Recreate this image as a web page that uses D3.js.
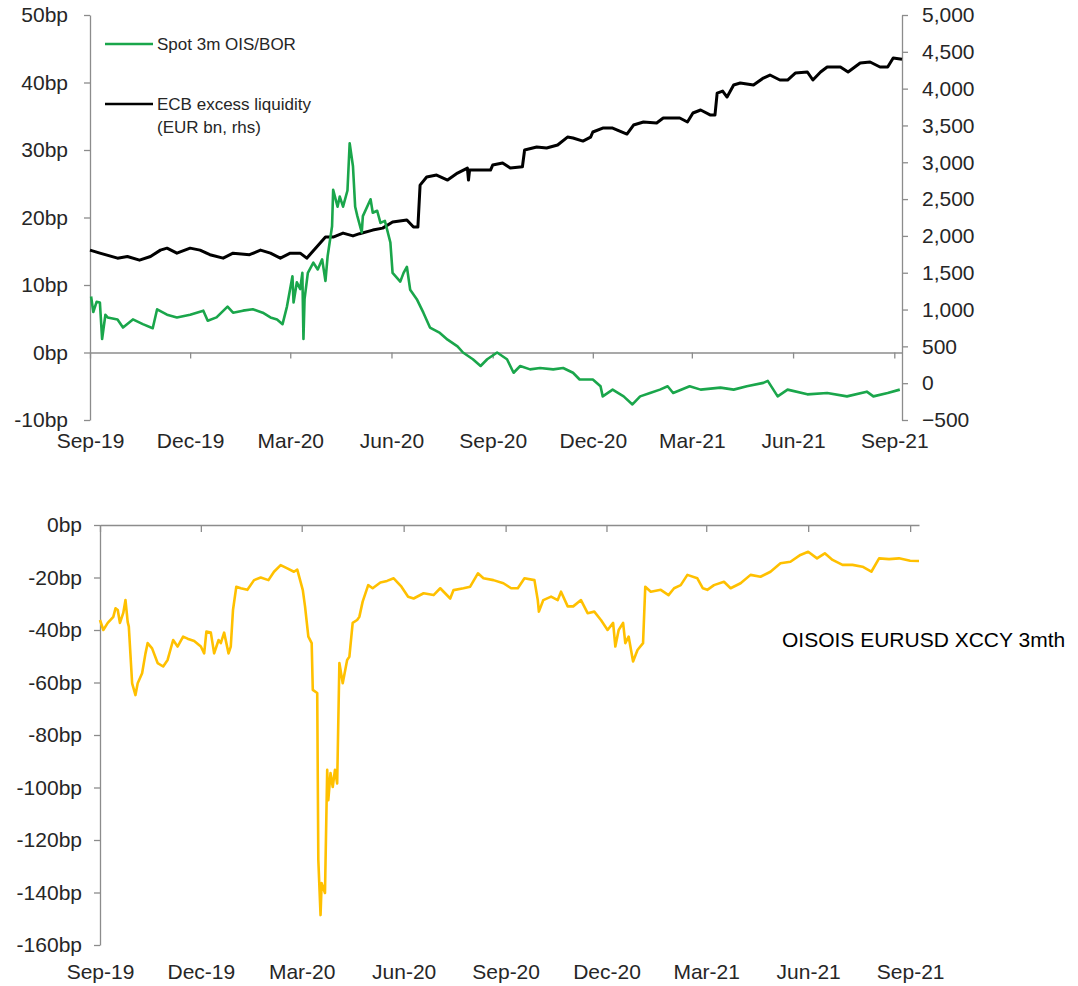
<!DOCTYPE html>
<html>
<head>
<meta charset="utf-8">
<script src="https://cdn.jsdelivr.net/npm/d3@7"></script>
<style>
  body { margin: 0; background: #fff; }
  svg text { font-family: "Liberation Sans", Arial, sans-serif; fill: #262626; }
</style>
</head>
<body>
<script>
// ---- data ----
const oisDates = ["2019-09-02","2019-09-04","2019-09-07","2019-09-10","2019-09-12","2019-09-15","2019-09-17","2019-09-26","2019-10-01","2019-10-10","2019-10-19","2019-10-28","2019-11-01","2019-11-10","2019-11-19","2019-12-01","2019-12-13","2019-12-17","2019-12-25","2020-01-04","2020-01-09","2020-01-18","2020-01-27","2020-02-05","2020-02-12","2020-02-18","2020-02-23","2020-02-27","2020-03-03","2020-03-04","2020-03-07","2020-03-10","2020-03-12","2020-03-13","2020-03-14","2020-03-17","2020-03-22","2020-03-26","2020-03-30","2020-04-02","2020-04-04","2020-04-08","2020-04-09","2020-04-13","2020-04-15","2020-04-18","2020-04-22","2020-04-24","2020-04-27","2020-04-29","2020-05-01","2020-05-05","2020-05-06","2020-05-13","2020-05-15","2020-05-19","2020-05-22","2020-05-26","2020-05-31","2020-06-02","2020-06-09","2020-06-12","2020-06-15","2020-06-18","2020-06-24","2020-06-30","2020-07-06","2020-07-15","2020-07-22","2020-07-31","2020-08-05","2020-08-14","2020-08-21","2020-08-27","2020-09-05","2020-09-14","2020-09-20","2020-09-26","2020-10-05","2020-10-14","2020-10-26","2020-11-04","2020-11-13","2020-11-19","2020-12-01","2020-12-08","2020-12-10","2020-12-19","2020-12-29","2021-01-06","2021-01-13","2021-01-22","2021-01-31","2021-02-07","2021-02-12","2021-02-27","2021-03-09","2021-03-27","2021-04-08","2021-04-20","2021-05-05","2021-05-09","2021-05-18","2021-05-27","2021-06-14","2021-07-02","2021-07-20","2021-08-07","2021-08-13","2021-08-26","2021-09-06"];
const oisValues = [8.3,6.0,7.5,7.4,2.0,5.6,5.2,4.9,3.7,4.9,4.2,3.6,6.4,5.6,5.2,5.6,6.2,4.7,5.2,6.8,5.9,6.2,6.4,5.9,5.2,4.9,4.2,6.8,11.3,7.4,10.4,9.4,11.8,2.0,7.9,11.8,13.3,12.3,13.8,10.6,14.3,18.7,24.1,21.6,23.1,21.6,24.0,31.0,27.6,21.6,20.2,17.8,20.2,22.7,20.7,21.0,19.2,19.5,16.3,11.8,10.5,11.8,12.7,9.3,7.9,5.9,3.7,2.9,1.9,0.9,0,-1,-2,-1,0,-1,-3,-2,-2.5,-2.3,-2.5,-2.3,-3,-4,-4,-5,-6.5,-5.5,-6.5,-7.7,-6.5,-6,-5.5,-5,-6,-5,-5.5,-5.2,-5.5,-5,-4.5,-4.2,-6.5,-5.5,-6.2,-6,-6.5,-5.8,-6.5,-6,-5.5];

const liqDates = ["2019-09-01","2019-09-10","2019-09-26","2019-10-05","2019-10-16","2019-10-26","2019-11-04","2019-11-10","2019-11-19","2019-12-01","2019-12-10","2019-12-19","2019-12-31","2020-01-09","2020-01-24","2020-02-03","2020-02-12","2020-02-21","2020-03-01","2020-03-10","2020-03-16","2020-03-25","2020-04-02","2020-04-09","2020-04-18","2020-04-27","2020-05-03","2020-05-15","2020-05-24","2020-06-02","2020-06-15","2020-06-21","2020-06-25","2020-06-27","2020-07-03","2020-07-12","2020-07-22","2020-07-31","2020-08-09","2020-08-10","2020-08-11","2020-08-30","2020-09-01","2020-09-10","2020-09-17","2020-09-28","2020-09-30","2020-10-11","2020-10-20","2020-10-30","2020-11-08","2020-11-13","2020-11-22","2020-11-29","2020-12-01","2020-12-10","2020-12-19","2021-01-01","2021-01-07","2021-01-16","2021-01-28","2021-02-03","2021-02-18","2021-02-25","2021-03-02","2021-03-09","2021-03-18","2021-03-22","2021-03-24","2021-03-29","2021-04-02","2021-04-08","2021-04-14","2021-04-26","2021-05-05","2021-05-11","2021-05-20","2021-05-27","2021-06-03","2021-06-14","2021-06-19","2021-06-26","2021-07-02","2021-07-14","2021-07-21","2021-08-01","2021-08-10","2021-08-19","2021-08-26","2021-08-31","2021-09-08"];
const liqValues = [1807,1766,1698,1720,1671,1720,1807,1834,1766,1834,1807,1745,1698,1766,1745,1807,1766,1698,1766,1766,1698,1848,1984,1984,2038,2000,2030,2079,2106,2188,2215,2120,2120,2690,2799,2826,2758,2853,2921,2758,2894,2894,2962,2989,2921,2940,3166,3207,3193,3234,3342,3329,3288,3342,3411,3465,3465,3383,3506,3547,3533,3601,3601,3547,3669,3710,3641,3641,3940,3967,3886,4049,4076,4049,4144,4185,4117,4117,4212,4226,4117,4226,4294,4294,4226,4348,4362,4294,4294,4416,4400];

const xccyDates = ["2019-09-01","2019-09-04","2019-09-08","2019-09-13","2019-09-15","2019-09-17","2019-09-19","2019-09-22","2019-09-24","2019-09-26","2019-09-27","2019-09-30","2019-10-03","2019-10-05","2019-10-09","2019-10-12","2019-10-14","2019-10-18","2019-10-23","2019-10-28","2019-11-01","2019-11-06","2019-11-10","2019-11-15","2019-11-19","2019-11-25","2019-12-01","2019-12-04","2019-12-06","2019-12-10","2019-12-13","2019-12-17","2019-12-19","2019-12-22","2019-12-26","2019-12-28","2019-12-30","2020-01-02","2020-01-06","2020-01-12","2020-01-18","2020-01-24","2020-01-31","2020-02-05","2020-02-11","2020-02-17","2020-02-23","2020-02-26","2020-03-02","2020-03-04","2020-03-07","2020-03-10","2020-03-11","2020-03-15","2020-03-16","2020-03-18","2020-03-19","2020-03-22","2020-03-24","2020-03-25","2020-03-27","2020-03-29","2020-03-31","2020-04-02","2020-04-04","2020-04-07","2020-04-11","2020-04-13","2020-04-16","2020-04-20","2020-04-22","2020-04-25","2020-04-30","2020-05-04","2020-05-11","2020-05-17","2020-05-23","2020-05-30","2020-06-05","2020-06-10","2020-06-19","2020-06-28","2020-07-04","2020-07-13","2020-07-16","2020-07-25","2020-07-31","2020-08-07","2020-08-12","2020-08-21","2020-08-30","2020-09-06","2020-09-12","2020-09-18","2020-09-27","2020-09-30","2020-10-01","2020-10-05","2020-10-12","2020-10-18","2020-10-21","2020-10-27","2020-11-01","2020-11-08","2020-11-14","2020-11-20","2020-11-26","2020-12-02","2020-12-07","2020-12-09","2020-12-12","2020-12-16","2020-12-18","2020-12-21","2020-12-25","2020-12-29","2021-01-03","2021-01-05","2021-01-10","2021-01-19","2021-01-26","2021-01-31","2021-02-06","2021-02-12","2021-02-21","2021-02-26","2021-03-02","2021-03-08","2021-03-17","2021-03-23","2021-04-01","2021-04-10","2021-04-19","2021-04-28","2021-05-07","2021-05-16","2021-05-25","2021-06-01","2021-06-09","2021-06-16","2021-06-23","2021-07-02","2021-07-11","2021-07-20","2021-07-28","2021-08-04","2021-08-13","2021-08-22","2021-09-01","2021-09-09"];
const xccyValues = [-36.2,-40,-37.3,-35,-31.7,-32.4,-37.3,-33.5,-28.6,-37,-38.7,-60.3,-64.8,-60.3,-56.5,-49,-45,-47,-52.6,-53.9,-51.4,-43.8,-46.3,-42.5,-43.3,-44.2,-46.3,-48.9,-40.6,-41,-48.9,-43.8,-45,-41,-48.9,-46.3,-32.4,-23.5,-24.1,-24.7,-21,-20,-21,-17.8,-15.3,-16.5,-17.8,-17,-24.8,-31,-42.5,-45,-62.8,-64,-127.6,-148.6,-136.4,-140.2,-93.3,-104.8,-94.5,-99.8,-93.3,-98.5,-52.6,-60.3,-51.4,-50.2,-37.3,-36.2,-35,-29.2,-22.9,-24.1,-21.9,-21.3,-20.3,-23.5,-27.3,-28,-26,-26.7,-24.1,-28,-24.8,-24.1,-23.5,-18.4,-20.3,-21,-22.2,-24.1,-24.1,-20.3,-21,-28.6,-33,-28.6,-27.3,-28.6,-25.4,-31,-31,-28.6,-33.6,-33,-36.2,-40,-37.3,-46.3,-40,-37.3,-45,-42.5,-52,-47.6,-45,-23.5,-25.4,-24.7,-26.7,-24.1,-22.9,-19,-20.3,-24.1,-24.7,-22.9,-21.6,-24.1,-22.2,-19,-19.7,-17.8,-14.6,-14,-11.4,-10.2,-12.7,-10.8,-13.3,-15.2,-15.2,-15.9,-17.8,-12.7,-13,-12.7,-13.6,-13.7];

const quarterTicks = ["2019-09-01","2019-12-01","2020-03-01","2020-06-01","2020-09-01","2020-12-01","2021-03-01","2021-06-01","2021-09-01"];
const topLeftTicks = [-10, 0, 10, 20, 30, 40, 50];
const topRightTicks = [-500, 0, 500, 1000, 1500, 2000, 2500, 3000, 3500, 4000, 4500, 5000];
const bottomTicks = [0, -20, -40, -60, -80, -100, -120, -140, -160];
const legendLabels = ["Spot 3m OIS/BOR", "ECB excess liquidity", "(EUR bn, rhs)"];
const sideLabel = "OISOIS EURUSD XCCY 3mth";

// ---- setup ----
const parse = d3.timeParse("%Y-%m-%d");
const fmtQ = d3.timeFormat("%b-%y");
const zip = (ds, vs) => ds.map((d, i) => ({ date: parse(d), value: vs[i] }));
const ois = zip(oisDates, oisValues);
const liq = zip(liqDates, liqValues);
const xccy = zip(xccyDates, xccyValues);
const qTicks = quarterTicks.map(parse);

const width = 1078, height = 986;
const axisColor = '#8c8c8c';
const fontSize = 21;

const svg = d3.select('body').append('svg')
  .attr('width', width)
  .attr('height', height);

function styleAxis(g) {
  g.selectAll('path.domain').attr('stroke', axisColor).attr('stroke-width', 1.3);
  g.selectAll('.tick line').attr('stroke', axisColor).attr('stroke-width', 1.3);
  g.selectAll('.tick text').attr('font-size', fontSize).attr('fill', '#262626')
    .style('font-family', '"Liberation Sans", Arial, sans-serif');
}

// ---- top chart ----
const xTop = d3.scaleTime()
  .domain([parse("2019-09-01"), parse("2021-09-08")])
  .range([90, 902]);
const yLeft = d3.scaleLinear().domain([-10, 50]).range([420, 15]);
const yRight = d3.scaleLinear().domain([-500, 5000]).range([420, 15]);

// zero line with quarter ticks
svg.append('g')
  .attr('transform', `translate(0,${yLeft(0)})`)
  .call(d3.axisBottom(xTop).tickValues(qTicks).tickSize(6).tickSizeOuter(0).tickFormat(''))
  .call(styleAxis);

// date labels under the plot
svg.append('g')
  .attr('transform', `translate(0,${yLeft(-10)})`)
  .call(d3.axisBottom(xTop).tickValues(qTicks).tickSize(0).tickPadding(13).tickFormat(fmtQ))
  .call(g => g.select('.domain').remove())
  .call(styleAxis);

svg.append('g')
  .attr('transform', 'translate(90,0)')
  .call(d3.axisLeft(yLeft).tickValues(topLeftTicks).tickSize(6).tickSizeOuter(0).tickPadding(16).tickFormat(d => d + 'bp'))
  .call(styleAxis);

svg.append('g')
  .attr('transform', 'translate(902,0)')
  .call(d3.axisRight(yRight).tickValues(topRightTicks).tickSize(6).tickSizeOuter(0).tickPadding(14).tickFormat(d3.format(',')))
  .call(styleAxis);

svg.append('path')
  .datum(liq)
  .attr('fill', 'none')
  .attr('stroke', '#000')
  .attr('stroke-width', 3)
  .attr('stroke-linejoin', 'round')
  .attr('d', d3.line().x(d => xTop(d.date)).y(d => yRight(d.value)));

svg.append('path')
  .datum(ois)
  .attr('fill', 'none')
  .attr('stroke', '#1aa64b')
  .attr('stroke-width', 2.6)
  .attr('stroke-linejoin', 'round')
  .attr('d', d3.line().x(d => xTop(d.date)).y(d => yLeft(d.value)));

// legend
const legend = svg.append('g').attr('transform', 'translate(105,0)');
legend.append('line').attr('x1', 0).attr('x2', 48).attr('y1', 44).attr('y2', 44)
  .attr('stroke', '#1aa64b').attr('stroke-width', 2.6);
legend.append('line').attr('x1', 0).attr('x2', 48).attr('y1', 104).attr('y2', 104)
  .attr('stroke', '#000').attr('stroke-width', 2.6);
legend.selectAll('text.lbl')
  .data(legendLabels)
  .enter()
  .append('text')
  .attr('class', 'lbl')
  .attr('x', 52)
  .attr('y', (d, i) => [50, 110, 133][i])
  .attr('font-size', 17)
  .text(d => d);

// ---- bottom chart ----
const xBot = d3.scaleTime()
  .domain([parse("2019-09-01"), parse("2021-09-09")])
  .range([100, 919]);
const yBot = d3.scaleLinear().domain([-160, 0]).range([945, 525]);

svg.append('g')
  .attr('transform', `translate(0,${yBot(0)})`)
  .call(d3.axisBottom(xBot).tickValues(qTicks).tickSize(7).tickSizeOuter(0).tickFormat(''))
  .call(styleAxis);

svg.append('g')
  .attr('transform', `translate(0,${yBot(-160)})`)
  .call(d3.axisBottom(xBot).tickValues(qTicks).tickSize(0).tickPadding(19).tickFormat(fmtQ))
  .call(g => g.select('.domain').remove())
  .call(styleAxis);

svg.append('g')
  .attr('transform', 'translate(100,0)')
  .call(d3.axisLeft(yBot).tickValues(bottomTicks).tickSize(6).tickSizeOuter(0).tickPadding(12).tickFormat(d => d + 'bp'))
  .call(styleAxis);

svg.append('path')
  .datum(xccy)
  .attr('fill', 'none')
  .attr('stroke', '#ffc000')
  .attr('stroke-width', 2.6)
  .attr('stroke-linejoin', 'round')
  .attr('d', d3.line().x(d => xBot(d.date)).y(d => yBot(d.value)));

svg.append('text')
  .attr('x', 782)
  .attr('y', 647)
  .attr('font-size', 21)
  .style('fill', '#000')
  .text(sideLabel);
</script>
</body>
</html>
